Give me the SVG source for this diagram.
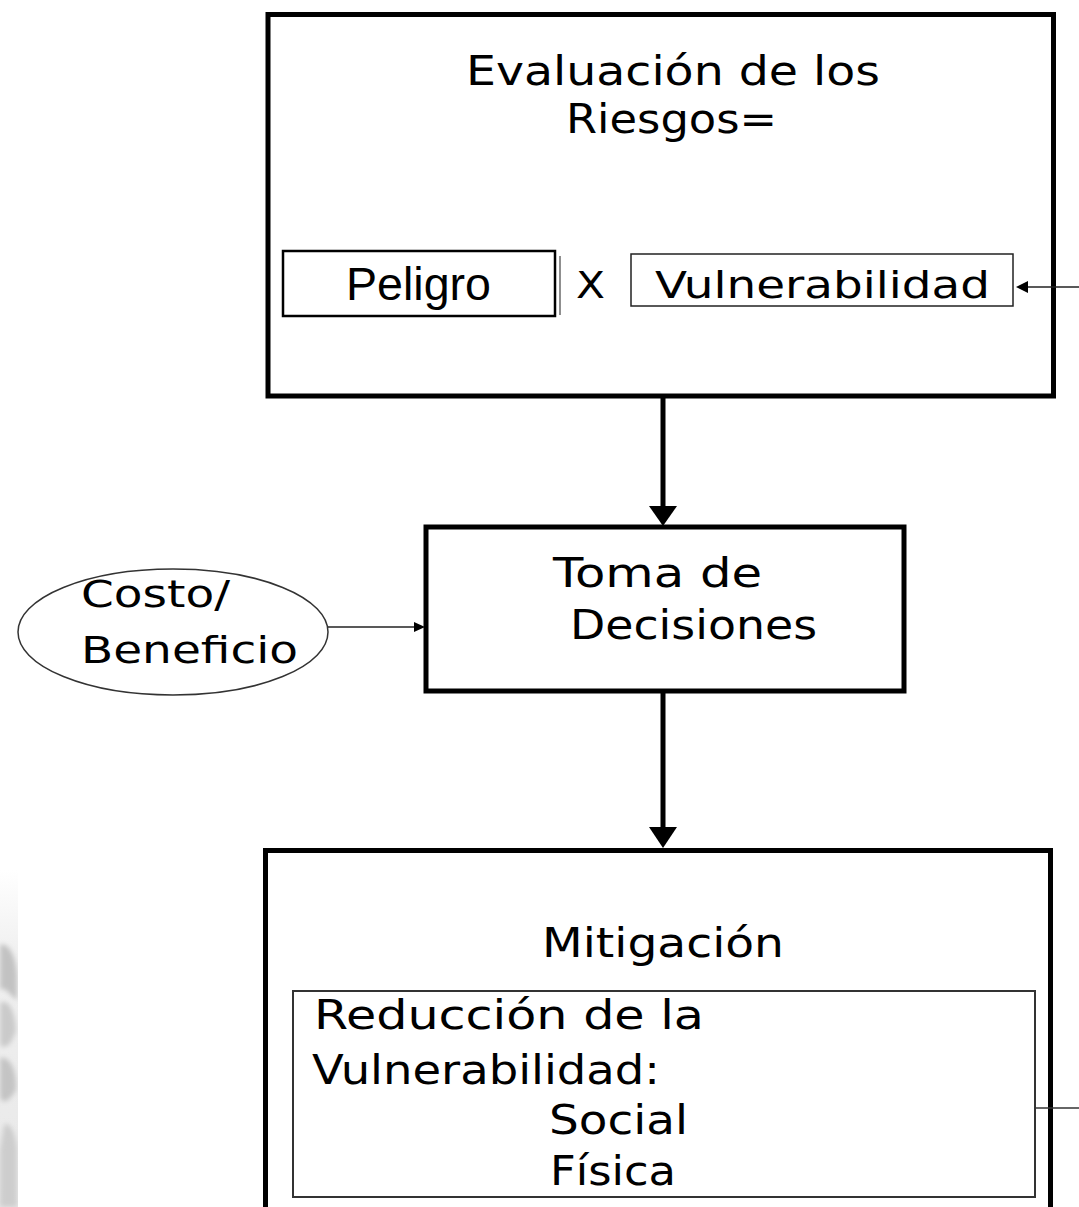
<svg xmlns="http://www.w3.org/2000/svg" width="1079" height="1207" viewBox="0 0 1079 1207">
<style>
.thick{fill:none;stroke:#000;stroke-width:5}
.thin{fill:none;stroke:#222;stroke-width:1.5}
.t{font-family:"DejaVu Sans","Liberation Sans",sans-serif;font-size:40px;fill:#000}
.a{font-family:"Liberation Sans",Arial,sans-serif;font-size:46px;fill:#000}
</style>
<defs>
<linearGradient id="fade" x1="0" y1="0" x2="0" y2="1">
<stop offset="0" stop-color="#fff"/>
<stop offset="0.25" stop-color="#f0f0f0"/>
<stop offset="1" stop-color="#e8e8e8"/>
</linearGradient>
<filter id="soft" x="-50%" y="-10%" width="200%" height="120%">
<feGaussianBlur stdDeviation="2.5"/>
</filter>
<clipPath id="edge"><rect x="0" y="800" width="18" height="407"/></clipPath>
</defs>
<rect width="1079" height="1207" fill="#fff"/>
<g id="decoration" clip-path="url(#edge)">
<rect x="0" y="870" width="18" height="337" fill="url(#fade)"/>
<g filter="url(#soft)">
<path d="M0,945 C8,942 16,955 17,975 L17,1000 C10,995 4,985 0,990 Z" fill="#c2c2c2"/>
<path d="M0,1003 C8,998 15,1010 16,1030 C12,1045 5,1050 0,1045 Z" fill="#cacaca"/>
<path d="M0,1058 C10,1056 17,1070 16,1090 C10,1100 4,1105 0,1098 Z" fill="#c4c4c4"/>
<path d="M4,1125 C10,1120 16,1135 17,1150 L17,1207 L0,1207 L0,1150 Z" fill="#cdcdcd"/>
</g>
</g>
<g id="evaluacion">
<rect class="thick" x="268" y="14.5" width="785.5" height="381.5"/>
<text class="t" x="466" y="85" textLength="414" lengthAdjust="spacingAndGlyphs">Evaluación de los</text>
<text class="t" x="566" y="133" textLength="211" lengthAdjust="spacingAndGlyphs">Riesgos=</text>
</g>
<g id="peligro">
<rect x="283" y="251" width="272" height="65" fill="none" stroke="#000" stroke-width="2.5"/>
<line x1="560" y1="256" x2="560" y2="315" stroke="#444" stroke-width="1.2"/>
<text class="a" x="346" y="300" textLength="145" lengthAdjust="spacingAndGlyphs">Peligro</text>
</g>
<g id="por">
<text class="t" x="576" y="298" style="font-size:38px" textLength="29" lengthAdjust="spacingAndGlyphs">X</text>
</g>
<g id="vulnerabilidad">
<rect class="thin" x="631" y="254" width="382" height="52"/>
<text class="t" x="655" y="298" style="font-size:38px" textLength="335" lengthAdjust="spacingAndGlyphs">Vulnerabilidad</text>
</g>
<g id="toma">
<rect class="thick" x="426" y="527" width="478" height="164"/>
<text class="t" x="553" y="587" textLength="209" lengthAdjust="spacingAndGlyphs">Toma de</text>
<text class="t" x="570" y="639" textLength="247" lengthAdjust="spacingAndGlyphs">Decisiones</text>
</g>
<g id="costo">
<ellipse cx="173" cy="632" rx="155" ry="63" fill="none" stroke="#333" stroke-width="1.5"/>
<text class="t" x="81" y="607" style="font-size:38px" textLength="149" lengthAdjust="spacingAndGlyphs">Costo/</text>
<text class="t" x="81" y="663" style="font-size:38px" textLength="217" lengthAdjust="spacingAndGlyphs">Beneficio</text>
</g>
<g id="mitigacion">
<rect class="thick" x="265.5" y="850.5" width="785" height="365"/>
<rect x="293" y="991" width="742" height="206" fill="none" stroke="#333" stroke-width="2"/>
<text class="t" x="542" y="957" textLength="242" lengthAdjust="spacingAndGlyphs">Mitigación</text>
<text class="t" x="314" y="1029" textLength="390" lengthAdjust="spacingAndGlyphs">Reducción de la</text>
<text class="t" x="312" y="1084" textLength="348" lengthAdjust="spacingAndGlyphs">Vulnerabilidad:</text>
<text class="t" x="549" y="1134" textLength="139" lengthAdjust="spacingAndGlyphs">Social</text>
<text class="t" x="550" y="1185" textLength="126" lengthAdjust="spacingAndGlyphs">Física</text>
</g>
<g id="connectors">
<line x1="663" y1="398" x2="663" y2="508" stroke="#000" stroke-width="5"/>
<polygon points="649,506 677,506 663,526" fill="#000"/>
<line x1="663" y1="693" x2="663" y2="829" stroke="#000" stroke-width="5"/>
<polygon points="649,827 677,827 663,848" fill="#000"/>
<line x1="328" y1="627" x2="418" y2="627" stroke="#222" stroke-width="1.5"/>
<polygon points="414,622 425,627 414,632" fill="#000"/>
<line x1="1079" y1="287" x2="1024" y2="287" stroke="#222" stroke-width="1.5"/>
<polygon points="1028,281 1016,287 1028,293" fill="#000"/>
<line x1="1035" y1="1108" x2="1079" y2="1108" stroke="#333" stroke-width="1.5"/>
</g>
</svg>
